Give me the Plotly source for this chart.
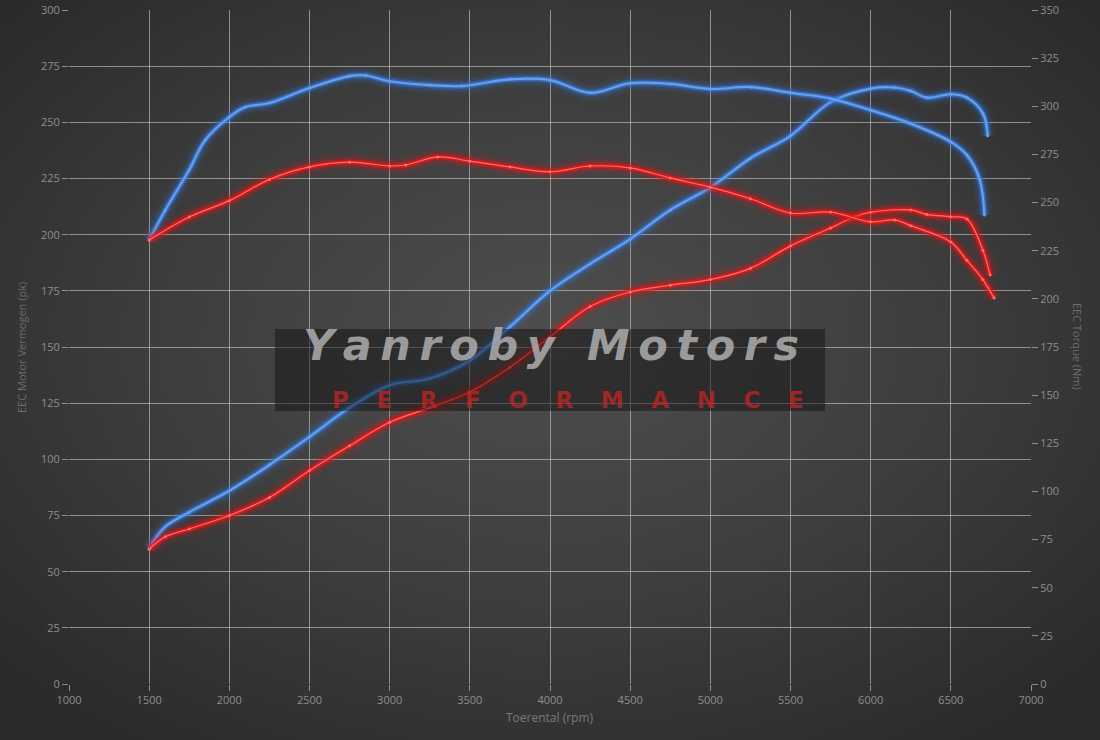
import base64
import plotly.graph_objects as go

# ---------------- data ----------------
rpm_power_tuned = [1500, 1600, 1750, 2000, 2250, 2500, 2750, 3000, 3250, 3500, 3750, 4000, 4250,
                   4500, 4750, 5000, 5250, 5500, 5750, 6000, 6150, 6250, 6350, 6500, 6600, 6700, 6730]
power_tuned = [60.5, 70, 76.5, 86, 97.5, 110, 123, 133, 136, 144, 159, 175, 187,
               198, 211, 221, 234, 244, 259, 265, 265.5, 264, 261, 262.5, 261, 254, 244]

rpm_power_stock = [1500, 1600, 1750, 2000, 2250, 2500, 2750, 3000, 3250, 3500, 3750, 4000, 4250,
                   4500, 4750, 5000, 5250, 5500, 5750, 5900, 6000, 6250, 6350, 6500, 6600, 6700, 6745]
power_stock = [60, 65.5, 69, 75, 83, 95, 106, 116.5, 123, 130, 141, 154.5, 168,
               174.5, 177.5, 180, 185, 195, 203, 208, 210, 211, 209, 208, 207, 193, 182]

rpm_torque_tuned = [1500, 1600, 1750, 1850, 2000, 2100, 2250, 2500, 2750, 2850, 3000, 3250, 3450,
                    3750, 4000, 4250, 4500, 4750, 5000, 5250, 5500, 5750, 6000, 6250, 6500, 6600,
                    6680, 6710]
torque_tuned = [230.6, 246, 267, 282.5, 294.4, 299.6, 301.7, 309.5, 315.7, 316, 313, 311, 310.5,
                314, 313.6, 307, 312, 311.6, 309, 310, 307, 304, 298, 291, 281.5, 274.7,
                262, 243.5]

rpm_torque_stock = [1500, 1750, 2000, 2250, 2500, 2750, 3000, 3100, 3300, 3500, 3750, 4000, 4250,
                    4500, 4750, 5000, 5250, 5500, 5750, 6000, 6150, 6250, 6500, 6600, 6700, 6770]
torque_stock = [230.6, 242.5, 251, 262, 268.5, 271, 269, 269.5, 273.7, 271.5, 268.5, 266, 269,
                268, 262.8, 258, 252, 244.6, 245, 240, 241, 238, 229.5, 220, 210, 200.4]

x_ticks = [1000, 1500, 2000, 2500, 3000, 3500, 4000, 4500, 5000, 5500, 6000, 6500, 7000]
power_ticks = list(range(0, 301, 25))
torque_ticks = list(range(0, 351, 25))

# ---------------- styling ----------------
BLUE_GLOW = "rgba(55,125,230,{a})"
BLUE_CORE = "rgb(100,160,238)"
RED_GLOW = "rgba(235,20,20,{a})"
RED_CORE = "rgb(255,110,110)"

fig = go.Figure()


def glow_line(x, y, glow, core, core_w, yaxis, glow_scale=1.0):
    for w, a in [(18, 0.06), (12, 0.12), (7, 0.3), (4.5, 0.55)]:
        fig.add_trace(go.Scatter(x=x, y=y, mode="lines", yaxis=yaxis, hoverinfo="skip",
                                 line=dict(color=glow.format(a=min(1, a * glow_scale)), width=w,
                                           shape="spline", smoothing=1),
                                 showlegend=False))
    fig.add_trace(go.Scatter(x=x, y=y, mode="lines+markers", yaxis=yaxis,
                             line=dict(color=core, width=core_w, shape="spline", smoothing=1),
                             marker=dict(size=3, color=core),
                             showlegend=False))


glow_line(rpm_torque_tuned, torque_tuned, BLUE_GLOW, BLUE_CORE, 2.2, "y2")
glow_line(rpm_power_tuned, power_tuned, BLUE_GLOW, BLUE_CORE, 2.2, "y")
glow_line(rpm_torque_stock, torque_stock, RED_GLOW, RED_CORE, 1.2, "y2", 1.15)
glow_line(rpm_power_stock, power_stock, RED_GLOW, RED_CORE, 1.2, "y", 1.15)

# background radial gradient
svg = """<svg xmlns='http://www.w3.org/2000/svg' width='1100' height='740'>
<defs><radialGradient id='g' cx='50%' cy='46%' r='65%'>
<stop offset='0%' stop-color='#4e4e4e'/><stop offset='55%' stop-color='#3d3d3d'/>
<stop offset='100%' stop-color='#2b2b2b'/></radialGradient></defs>
<rect width='1100' height='740' fill='url(#g)'/></svg>"""
bg_uri = "data:image/svg+xml;base64," + base64.b64encode(svg.encode()).decode()

W, H = 1100, 740
ML, MR, MT, MB = 69, 69, 10, 56
PW, PH = W - ML - MR, H - MT - MB

GRID = "rgba(205,205,205,0.6)"
TICKFONT = dict(family="Open Sans, DejaVu Sans, sans-serif", size=11, color="#8e8e8e")

fig.update_layout(
    width=W, height=H,
    margin=dict(l=ML, r=MR, t=MT, b=MB, autoexpand=False),
    paper_bgcolor="#333333",
    plot_bgcolor="rgba(0,0,0,0)",
    showlegend=False,
    images=[dict(source=bg_uri, xref="paper", yref="paper",
                 x=-ML / PW, y=1 + MT / PH, sizex=W / PW, sizey=H / PH,
                 sizing="stretch", xanchor="left", yanchor="top", layer="below")],
    xaxis=dict(range=[1000, 7000], tickvals=x_ticks, showgrid=True, gridcolor=GRID, gridwidth=1,
               zeroline=False, showline=False, ticks="outside", ticklen=6, tickcolor=GRID,
               tickfont=TICKFONT, fixedrange=True),
    yaxis=dict(range=[0, 300], tickvals=power_ticks, showgrid=True, gridcolor=GRID, gridwidth=1,
               zeroline=False, showline=False, ticks="outside", ticklen=6, tickcolor=GRID,
               tickfont=TICKFONT),
    yaxis2=dict(range=[0, 350], tickvals=torque_ticks, overlaying="y", side="right",
                showgrid=False, zeroline=False, showline=False, ticks="outside", ticklen=6,
                tickcolor=GRID, tickfont=TICKFONT),
)

# watermark box
fig.add_shape(type="rect", xref="paper", yref="paper",
              x0=(275 - ML) / PW, x1=(825 - ML) / PW,
              y0=(H - MB - 411) / PH, y1=(H - MB - 329) / PH,
              fillcolor="rgba(18,18,18,0.5)", line=dict(width=0), layer="above")

brand = "\u2009".join("Yanroby Motors")
perf = "\u2003\u2009".join("PERFORMANCE")
annots = [
    dict(text=brand, x=(551 - ML) / PW, y=(H - MB - 345) / PH,
         font=dict(family="DejaVu Sans", size=43, color="rgba(175,175,175,0.85)",
                   weight="bold", style="italic")),
    dict(text=perf, x=(568 - ML) / PW, y=(H - MB - 400) / PH,
         font=dict(family="DejaVu Sans", size=23, color="rgba(205,35,35,0.72)", weight="bold")),
    dict(text="EEC Motor Vermogen (pk)", x=(21 - ML) / PW, y=(H - MB - 348) / PH, textangle=-90,
         font=dict(family="Open Sans, DejaVu Sans, sans-serif", size=11, color="#6c6c6c")),
    dict(text="EEC Torque (Nm)", x=(1078 - ML) / PW, y=(H - MB - 346) / PH, textangle=90,
         font=dict(family="Open Sans, DejaVu Sans, sans-serif", size=11, color="#6c6c6c")),
    dict(text="Toerental (rpm)", x=(550 - ML) / PW, y=-(717 - (H - MB)) / PH,
         font=dict(family="Open Sans, DejaVu Sans, sans-serif", size=12, color="#7a7a7a")),
]
for a in annots:
    fig.add_annotation(xref="paper", yref="paper", showarrow=False,
                       xanchor="center", yanchor="middle", **a)

fig.write_html("out.html", config={"displayModeBar": False},
               post_script="document.body.style.margin='0';document.body.style.background='#2b2b2b';")
